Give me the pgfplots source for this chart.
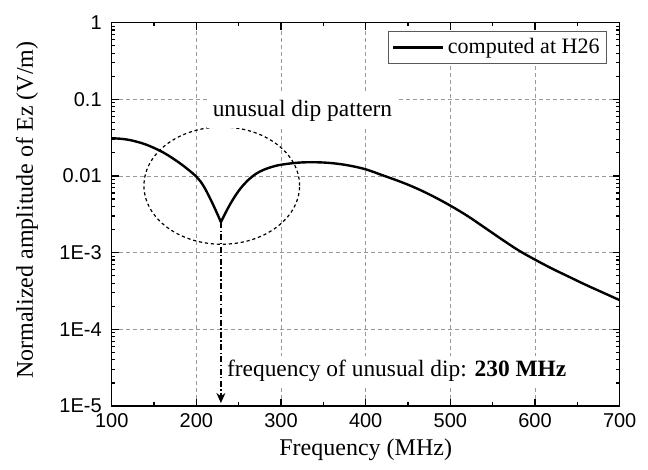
\documentclass[border=0pt]{standalone}
\usepackage{fontspec}
\setmainfont{Liberation Serif}
\newfontfamily\arialfont{Liberation Sans}
\usepackage{pgfplots}
\pgfplotsset{compat=1.18}
\usetikzlibrary{arrows.meta}
\begin{document}
\begin{tikzpicture}
\path[use as bounding box] (-55.85pt,-32pt) rectangle (268.15pt,203pt);
\begin{axis}[
  at={(0,0)}, anchor=south west,
  scale only axis, width=254pt, height=191.7pt,
  xmin=100, xmax=700, ymode=log, ymin=1e-5, ymax=1,
  xtick={100,200,300,400,500,600,700}, minor x tick num=1,
  ytick={1e-5,1e-4,1e-3,0.01,0.1,1},
  yticklabels={1E-5,1E-4,1E-3,0.01,0.1,1},
  xtick pos=both, ytick pos=both,
  tick align=inside,
  major tick length=3.5pt, minor tick length=1.8pt,
  every tick/.style={black, line width=0.6pt},
  grid=major,
  major grid style={dash pattern=on 2pt off 1.5pt, gray!80, line width=0.4pt},
  axis line style={line width=0.8pt},
  /pgf/number format/assume math mode=true,
  tick label style={font=\arialfont\fontsize{10}{12}\selectfont},
  yticklabel style={xshift=-1.5pt},
  xlabel={Frequency (MHz)},
  ylabel={Normalized amplitude of Ez (V/m)},
  label style={font=\fontsize{12}{14}\selectfont},
  xlabel style={at={(rel axis cs:0.5,-0.128)}, anchor=base},
  ylabel style={at={(rel axis cs:-0.155,0.511)}, anchor=base},
  legend style={at={(0.975,0.978)}, anchor=north east, draw=gray!70!black,
    line width=0.5pt, font=\fontsize{11}{13}\selectfont, inner sep=1.5pt},
  legend cell align=left,
  legend image code/.code={\draw[#1] (0pt,0pt) -- (25pt,0pt);},
]
\addplot[black, line width=1.2pt, smooth, tension=0.6] coordinates {
(100,0.0310) (110,0.0306) (120,0.0296) (130,0.0279) (140,0.0258)
(150,0.0232) (160,0.0205) (170,0.0176) (180,0.0148) (190,0.0122)
(200,0.0098) (205,0.00847) (210,0.00692) (215,0.00543) (220,0.00417)
(225,0.00316) (229,0.0025)};
\addlegendentry{computed at H26}
\addplot[black, line width=1.2pt, smooth, tension=0.6, forget plot] coordinates {
(229,0.0025) (235,0.0034) (240,0.0043) (245,0.0053) (250,0.0064)
(255,0.0075) (260,0.0086) (270,0.0106) (280,0.0121) (290,0.0132)
(300,0.0140) (320,0.0149) (340,0.0151) (360,0.0147) (380,0.0137)
(400,0.0122) (420,0.0102) (440,0.0085) (460,0.0069) (480,0.0054)
(500,0.0041) (520,0.00302) (540,0.00214) (560,0.00151) (580,0.00108)
(600,0.00081) (620,0.00062) (640,0.000485) (660,0.00038) (680,0.000302)
(700,0.00024)};
\draw[dash pattern=on 1.6pt off 1.4pt, line width=0.6pt]
  (axis cs:230,0.00748) ellipse [x radius=38.9pt, y radius=29.3pt];
\draw[dash pattern=on 3pt off 1.2pt on 0.7pt off 1.2pt, line width=0.6pt,
  -{Stealth[length=5pt, width=4.5pt]}]
  (axis cs:229,0.0025) -- (axis cs:229,1.094e-5);
\node[fill=white, inner sep=3pt, anchor=base, font=\fontsize{11.7}{14}\selectfont]
  at (axis cs:325.3,0.0594) {unusual dip pattern};
\node[fill=white, inner sep=2pt, anchor=base west, font=\fontsize{11.7}{14}\selectfont]
  at (axis cs:231.1,2.41e-5) {frequency of unusual dip: \textbf{230 MHz}};
\end{axis}
\end{tikzpicture}
\end{document}
